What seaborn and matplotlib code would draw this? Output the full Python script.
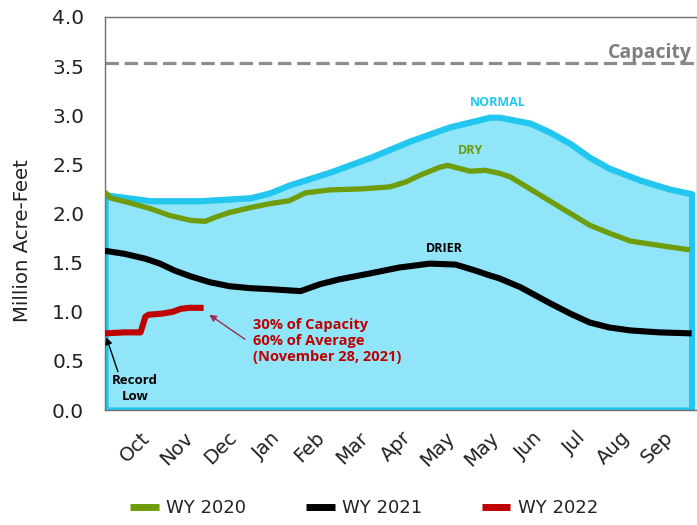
import matplotlib
matplotlib.use("Agg")
import matplotlib.pyplot as plt
import seaborn as sns
import pandas as pd

# ---------------- data (day 0 = Oct 1) ----------------
normal_days = [0, 28, 59, 90, 102, 114, 139, 164, 189, 213, 238, 244, 263, 275, 288, 300, 312, 331, 349, 363]
normal_vals = [2.19, 2.13, 2.13, 2.16, 2.21, 2.29, 2.42, 2.57, 2.74, 2.88, 2.98, 2.98, 2.92, 2.83, 2.71, 2.57, 2.46, 2.34, 2.25, 2.20]

wy2020_days = [0, 3, 15, 28, 40, 53, 62, 68, 77, 90, 102, 114, 124, 139, 158, 176, 186, 195, 207, 212,
               226, 235, 244, 251, 263, 275, 288, 300, 312, 325, 337, 349, 362]
wy2020_vals = [2.22, 2.16, 2.11, 2.05, 1.98, 1.93, 1.92, 1.96, 2.01, 2.06, 2.10, 2.13, 2.21, 2.24, 2.25, 2.27, 2.32, 2.39, 2.47, 2.49,
               2.43, 2.44, 2.41, 2.37, 2.25, 2.13, 2.00, 1.88, 1.80, 1.72, 1.69, 1.66, 1.63]

wy2021_days = [0, 12, 25, 34, 43, 53, 65, 77, 90, 102, 121, 133, 145, 164, 182, 201, 217, 229, 238, 244,
               257, 275, 288, 300, 312, 325, 343, 363]
wy2021_vals = [1.62, 1.59, 1.54, 1.49, 1.42, 1.36, 1.30, 1.26, 1.24, 1.23, 1.21, 1.28, 1.33, 1.39, 1.45, 1.49, 1.48, 1.42, 1.37, 1.34,
               1.25, 1.09, 0.98, 0.89, 0.84, 0.81, 0.79, 0.78]

wy2022_days = [0, 12, 22, 25, 27, 35, 42, 47, 52, 61]
wy2022_vals = [0.78, 0.79, 0.79, 0.95, 0.97, 0.98, 1.00, 1.03, 1.04, 1.04]

capacity = 3.53

tick_days = [30, 57, 84, 111, 138, 165, 192, 219, 246, 273, 300, 327, 354]
tick_labels = ["Oct", "Nov", "Dec", "Jan", "Feb", "Mar", "Apr", "May", "May", "Jun", "Jul", "Aug", "Sep"]
y_ticks = [0.0, 0.5, 1.0, 1.5, 2.0, 2.5, 3.0, 3.5, 4.0]

series_names = ["WY 2020", "WY 2021", "WY 2022"]
series_colors = ["#6E9C0A", "#000000", "#C00000"]

# ---------------- figure ----------------
sns.set_style("white")
plt.rcParams["font.family"] = ["DejaVu Sans"]

fig = plt.figure(figsize=(6.97, 5.25), dpi=100)
W, H = 697, 525
AX_W = 591.5
ax = fig.add_axes([105 / W, 1 - 410 / H, AX_W / W, 393 / H])

# normal area
ax.fill_between(normal_days, normal_vals, 0, facecolor="#90E5F9", edgecolor="#22C6EF",
                linewidth=4.5, zorder=1)

# capacity line
ax.axhline(capacity, color="#8C8C8C", linewidth=2.3, linestyle=(0, (4.2, 1.8)), zorder=2)

df = pd.concat([
    pd.DataFrame({"day": wy2020_days, "val": wy2020_vals, "series": series_names[0]}),
    pd.DataFrame({"day": wy2021_days, "val": wy2021_vals, "series": series_names[1]}),
    pd.DataFrame({"day": wy2022_days, "val": wy2022_vals, "series": series_names[2]}),
])
widths = [3.8, 4.4, 4.4]
for name, col, lw in zip(series_names, series_colors, widths):
    sub = df[df["series"] == name]
    sns.lineplot(data=sub, x="day", y="val", ax=ax, color=col, linewidth=lw,
                 label=name, zorder=3, solid_capstyle="butt")

ax.set_xlim(0, 366)
ax.set_ylim(0, 4.0)
ax.set_xticks(tick_days)
ax.set_xticklabels(tick_labels, rotation=45, ha="right", va="top", fontsize=14)
ax.set_yticks(y_ticks)
ax.set_yticklabels([f"{v:.1f}" for v in y_ticks], fontsize=14.5)
ax.tick_params(axis="x", length=0, pad=13, colors="#222222")
ax.tick_params(axis="y", length=0, pad=15, colors="#222222")
ax.set_xlabel("")
ax.set_ylabel("Million Acre-Feet", fontsize=14.2, color="#222222")
ax.yaxis.label.set_va("center")
ax.yaxis.set_label_coords((23 - 105) / AX_W, (410 - 241) / 393)
for s in ax.spines.values():
    s.set_color("#707070")
    s.set_linewidth(1.0)
ax.grid(False)

bold = dict(family="Open Sans", fontweight="bold")
ax.text(363, 3.58, "Capacity", ha="right", va="baseline", fontsize=14, color="#7F7F7F", **bold)
ax.text(243, 3.13, "NORMAL", ha="center", va="center", fontsize=9, color="#22C6EF", **bold)
ax.text(226, 2.64, "DRY", ha="center", va="center", fontsize=9, color="#6E9C0A", **bold)
ax.text(210, 1.64, "DRIER", ha="center", va="center", fontsize=9, color="#000000", **bold)
ax.text(91.5, 0.70, "30% of Capacity\n60% of Average\n(November 28, 2021)", ha="left", va="center",
        fontsize=10.5, color="#C00000", linespacing=1.2, **bold)
ax.text(18.6, 0.22, "Record\nLow", ha="center", va="center", fontsize=9.5, color="#000000",
        linespacing=1.3, **bold)

ax.annotate("", xy=(64.5, 0.97), xytext=(86.6, 0.72),
            arrowprops=dict(arrowstyle="-|>", color="#9B2D4F", lw=1.0, mutation_scale=10,
                            shrinkA=0, shrinkB=0), zorder=4)
ax.annotate("", xy=(0.8, 0.74), xytext=(8.0, 0.39),
            arrowprops=dict(arrowstyle="-|>", color="#000000", lw=1.0, mutation_scale=10,
                            shrinkA=0, shrinkB=0), zorder=4)

leg = ax.legend(loc="center", bbox_to_anchor=(364 / W, 1 - 508 / H), bbox_transform=fig.transFigure,
                ncol=3, frameon=False, fontsize=13, handlelength=1.6, handletextpad=0.4,
                columnspacing=3.3)
for t in leg.get_texts():
    t.set_color("#222222")
for h in leg.get_lines():
    h.set_linewidth(5)

fig.savefig("out.png", dpi=100)
